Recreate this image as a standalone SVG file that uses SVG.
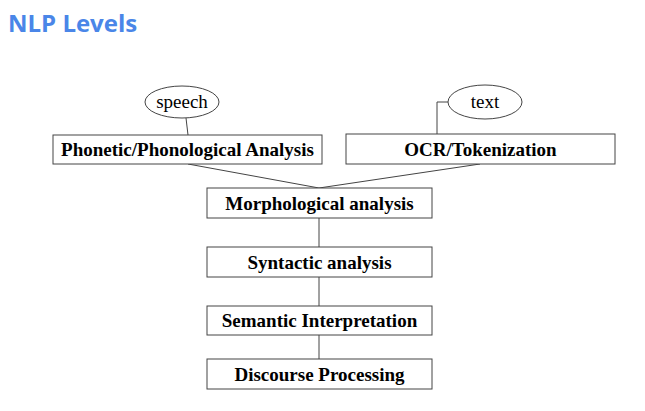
<svg xmlns="http://www.w3.org/2000/svg" width="645" height="411" viewBox="0 0 645 411">
<style>
.box{fill:#fff;stroke:#444;stroke-width:1}
.ell{fill:#fff;stroke:#444;stroke-width:1}
.lbl{font-family:"Liberation Serif",serif;font-weight:bold;font-size:19px;fill:#000;text-anchor:middle}
.elbl{font-family:"Liberation Serif",serif;font-size:19px;fill:#000;text-anchor:middle}
.con{stroke:#444;stroke-width:1;fill:none}
</style>
<rect width="645" height="411" fill="#fff"/>
<text x="8" y="32" font-family="'Open Sans',sans-serif" font-weight="bold" font-size="24" fill="#4a86e8">NLP Levels</text>
<g id="connectors">
<line class="con" x1="186" y1="118" x2="188" y2="135"/>
<polyline class="con" points="448,102 437,102 437,134"/>
<line class="con" x1="188" y1="164" x2="319" y2="188"/>
<line class="con" x1="480" y1="164" x2="319" y2="188"/>
<line class="con" x1="319" y1="218" x2="319" y2="247"/>
<line class="con" x1="319" y1="277" x2="319" y2="306"/>
<line class="con" x1="319" y1="335" x2="319" y2="359"/>
</g>
<g id="speech"><ellipse class="ell" cx="182" cy="102" rx="37" ry="16"/><text class="elbl" x="182" y="108">speech</text></g>
<g id="text"><ellipse class="ell" cx="485" cy="102" rx="37" ry="17"/><text class="elbl" x="485" y="108">text</text></g>
<g id="phonetic"><rect class="box" x="53" y="135" width="269" height="29"/><text class="lbl" x="187.5" y="156">Phonetic/Phonological Analysis</text></g>
<g id="ocr"><rect class="box" x="346" y="134" width="269" height="30"/><text class="lbl" x="480.5" y="156">OCR/Tokenization</text></g>
<g id="morph"><rect class="box" x="207" y="188" width="225" height="30"/><text class="lbl" x="319.5" y="210">Morphological analysis</text></g>
<g id="syntactic"><rect class="box" x="207" y="247" width="225" height="30"/><text class="lbl" x="319.5" y="269">Syntactic analysis</text></g>
<g id="semantic"><rect class="box" x="207" y="306" width="225" height="29"/><text class="lbl" x="319.5" y="327">Semantic Interpretation</text></g>
<g id="discourse"><rect class="box" x="207" y="359" width="225" height="30"/><text class="lbl" x="319.5" y="381">Discourse Processing</text></g>
</svg>
